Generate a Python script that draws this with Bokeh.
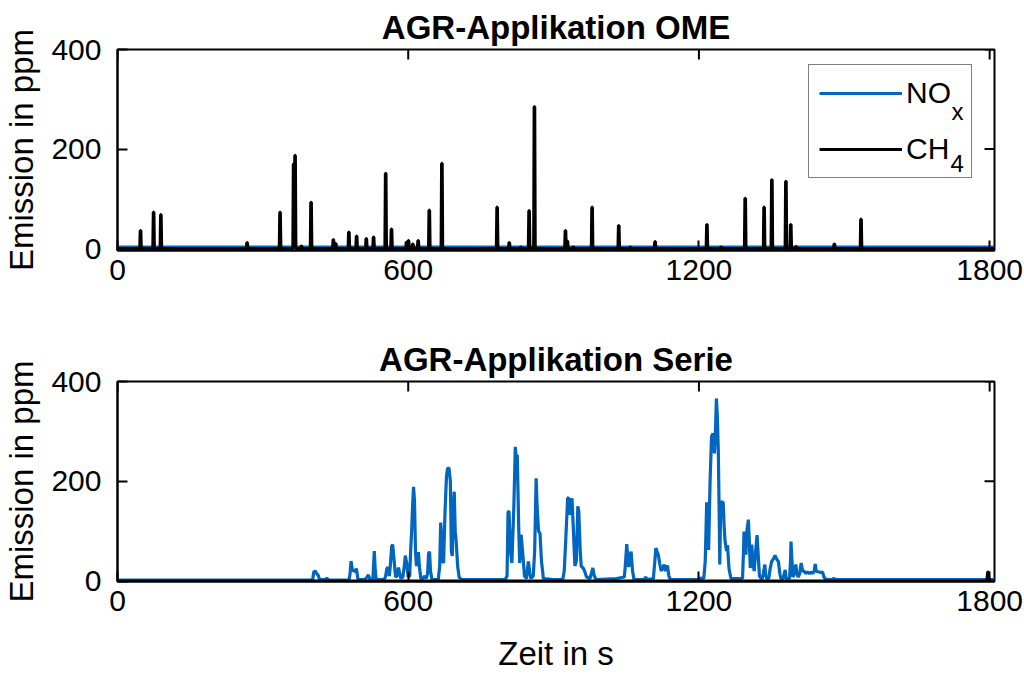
import numpy as np
from bokeh.plotting import figure
from bokeh.layouts import column
from bokeh.models import Range1d, FixedTicker, Legend, LegendItem, Label
from bokeh.embed import file_html
from bokeh.resources import INLINE

FONT = "Liberation Sans"
BLUE = "#0066BF"
BLACK = "#000000"

x_ticks = [0, 600, 1200, 1800]
y_ticks = [0, 200, 400]
t_end = 1810

# --- AGR-Applikation OME -------------------------------------------------
# CH4 peaks: time in s, peak value in ppm
ome_ch4_t = [47, 74, 89, 267, 335, 363, 366, 379, 399, 445, 450, 477, 493, 513,
             528, 553, 565, 596, 600, 609, 620, 643, 669, 783, 808, 832, 849, 860,
             924, 928, 940, 979, 1034, 1058, 1109, 1216, 1245, 1295, 1334, 1350,
             1379, 1389, 1400, 1479, 1534]
ome_ch4_h = [36, 73, 68, 12, 73, 170, 187, 5, 93, 18, 10, 33, 25, 20,
             23, 151, 39, 13, 16, 9, 16, 77, 171, 83, 12, 3, 76, 285,
             36, 15, 3, 83, 46, 3, 14, 48, 3, 101, 83, 138,
             135, 48, 4, 9, 59]
ome_ch4_base = 0.0
ome_nox_t = [0, 1810]
ome_nox_v = [3, 3]

# --- AGR-Applikation Serie -----------------------------------------------
serie_nox_t = [0, 398, 403, 405, 408, 411, 414, 417, 429, 432, 435, 478, 480, 482,
               485, 488, 490, 493, 496, 499, 510, 515, 518, 521, 527, 529, 530, 532,
               534, 550, 553, 556, 558, 561, 563, 566, 568, 571, 574, 577, 580, 583,
               585, 589, 592, 594, 597, 600, 603, 605, 607, 609, 611, 613, 615, 617,
               619, 621, 623, 626, 630, 634, 637, 640, 642, 644, 646, 649, 662, 665,
               667, 669, 671, 673, 676, 679, 681, 684, 687, 689, 691, 693, 695, 697,
               699, 702, 705, 710,
               800, 804, 806, 808, 811, 814, 818, 821, 823, 825, 828, 830, 833, 836,
               840, 844, 848, 851, 853, 858, 861, 864, 866, 869, 872, 875, 879, 900,
               919, 922, 925, 929, 931, 933, 936, 938, 941, 944, 947, 950, 952, 955,
               957, 961, 964, 968, 975, 978, 981, 984, 988, 1030, 1046, 1048, 1051,
               1053, 1055, 1058, 1060, 1063, 1066, 1087, 1090, 1093, 1106, 1109, 1111,
               1114, 1116, 1119, 1122, 1125, 1128, 1131, 1133, 1135, 1138, 1141,
               1200, 1204, 1210, 1213, 1216, 1219, 1220, 1223, 1226, 1229, 1232, 1234,
               1236, 1238, 1240, 1242, 1243, 1245, 1250, 1252, 1254, 1257, 1259, 1262,
               1266, 1290, 1292, 1293, 1295, 1297, 1299, 1302, 1304, 1306, 1309, 1311,
               1314, 1317, 1320, 1323, 1325, 1330, 1333, 1336, 1338, 1340, 1344, 1347,
               1350, 1354, 1357, 1360, 1364, 1367, 1369, 1374, 1376, 1378, 1380, 1387,
               1389, 1390, 1392, 1394, 1397, 1400, 1402, 1405, 1408, 1411, 1414, 1417,
               1420, 1424, 1428, 1431, 1435, 1438, 1440, 1442, 1444, 1448, 1452, 1455,
               1458, 1462, 1476, 1478, 1481, 1810]
serie_nox_v = [2, 2, 3, 18, 20, 15, 12, 3, 3, 6, 2, 2, 15, 40,
               20, 22, 18, 25, 5, 3, 3, 8, 12, 3, 3, 40, 60, 20,
               3, 3, 8, 25, 28, 10, 30, 70, 73, 40, 8, 10, 27, 12,
               5, 8, 30, 51, 35, 8, 10, 60, 99, 150, 189, 160, 60, 30,
               40, 58, 30, 5, 5, 10, 5, 15, 55, 59, 20, 3, 3, 30,
               117, 90, 40, 36, 140, 210, 225, 227, 200, 60, 50, 150, 179, 100,
               79, 30, 8, 3,
               3, 10, 139, 139, 60, 36, 150, 269, 245, 253, 110, 36, 93, 60,
               10, 5, 39, 15, 5, 10, 60, 206, 150, 100, 95, 40, 5, 3,
               3, 20, 80, 166, 167, 133, 140, 166, 100, 30, 40, 150, 140, 60,
               30, 26, 20, 8, 5, 15, 26, 10, 3, 5, 8, 30, 74,
               50, 28, 50, 59, 20, 3, 3, 8, 3, 5, 40, 66,
               58, 53, 35, 20, 25, 33, 20, 25, 31, 10, 3,
               3, 6, 5, 40, 158, 100, 62, 200, 290, 296, 256, 300,
               366, 330, 259, 120, 33, 158, 158, 110, 79, 60, 72, 25,
               5, 5, 60, 99, 80, 53, 100, 123, 80, 26, 73, 40,
               20, 60, 92, 40, 10, 3, 15, 33, 10, 5, 5, 25,
               39, 45, 51, 45, 39, 15, 5, 5, 15, 22, 5, 5,
               40, 79, 40, 8, 15, 33, 15, 8, 15, 36, 20, 20,
               15, 18, 15, 18, 15, 20, 34, 20, 19, 18, 17, 18,
               8, 3, 3, 6, 3, 3]
serie_ch4_t = [0, 1794, 1796, 1797, 1799, 1810]
serie_ch4_v = [0, 0, 18, 18, 0, 0]

FIG_W = 1024
BORDER_L, BORDER_R = 116, 30
TICK_LEN = 10  # px, ticks point into the plot area


def peak_series(times, heights, base, end):
    """Sampled 1 Hz trace: flat base with short two-sample peaks."""
    t = np.arange(0, end + 1)
    v = np.full(t.shape, base, dtype=float)
    for ts, h in zip(times, heights):
        v[ts] = max(v[ts], h)
        v[ts + 1] = max(v[ts + 1], h)
    return t, v


def make_panel(title, height, border_top, border_bottom, y_start, xlabel=None):
    p = figure(width=FIG_W, height=height,
               x_range=Range1d(0, t_end), y_range=Range1d(y_start, 400),
               output_backend="svg", toolbar_location=None,
               min_border_left=BORDER_L, min_border_right=BORDER_R,
               min_border_top=border_top, min_border_bottom=border_bottom,
               title=title)
    p.grid.grid_line_color = None
    p.background_fill_color = "white"
    p.border_fill_color = "white"
    p.outline_line_color = "black"
    p.outline_line_width = 2
    p.outline_line_alpha = 1.0

    p.title.text_font = FONT
    p.title.text_font_size = "33px"
    p.title.text_font_style = "bold"
    p.title.text_color = "black"
    p.title.align = "center"
    p.title.standoff = 8

    for ax in (p.xaxis[0], p.yaxis[0]):
        ax.axis_line_color = "black"
        ax.axis_line_width = 2
        ax.major_tick_in = TICK_LEN
        ax.major_tick_out = 0
        ax.major_tick_line_width = 2
        ax.major_tick_line_color = "black"
        ax.minor_tick_line_color = None
        ax.major_label_text_font = FONT
        ax.major_label_text_font_size = "30px"
        ax.major_label_text_color = "black"
        ax.axis_label_text_font = FONT
        ax.axis_label_text_font_size = "33px"
        ax.axis_label_text_font_style = "normal"
        ax.axis_label_text_color = "black"
    p.xaxis[0].ticker = FixedTicker(ticks=x_ticks)
    p.yaxis[0].ticker = FixedTicker(ticks=y_ticks)
    p.xaxis[0].major_label_standoff = 9
    p.yaxis[0].major_label_standoff = 16
    p.yaxis[0].axis_label = "Emission in ppm"
    p.yaxis[0].axis_label_standoff = 8
    if xlabel:
        p.xaxis[0].axis_label = xlabel
        p.xaxis[0].axis_label_standoff = 21

    # mirrored tick marks along the top and right edges of the box
    frame_w = FIG_W - BORDER_L - BORDER_R
    frame_h = height - border_top - border_bottom
    dy = TICK_LEN * (400 - y_start) / frame_h
    dx = TICK_LEN * t_end / frame_w
    p.segment(x0=x_ticks, x1=x_ticks, y0=[400] * len(x_ticks),
              y1=[400 - dy] * len(x_ticks), line_color="black", line_width=2)
    p.segment(x0=[t_end] * len(y_ticks), x1=[t_end - dx] * len(y_ticks),
              y0=y_ticks, y1=y_ticks, line_color="black", line_width=2)
    return p


# --- upper panel --------------------------------------------------------
p1 = make_panel("AGR-Applikation OME", 330, 49, 80, -4)
t_ch4, v_ch4 = peak_series(ome_ch4_t, ome_ch4_h, ome_ch4_base, t_end)
r_nox = p1.line(ome_nox_t, ome_nox_v, line_color=BLUE, line_width=3)
r_ch4 = p1.line(t_ch4, v_ch4, line_color=BLACK, line_width=3.2)

legend = Legend(items=[LegendItem(label="NO", renderers=[r_nox]),
                       LegendItem(label="CH", renderers=[r_ch4])],
                location=(691, 72))
legend.label_text_font = FONT
legend.label_text_font_size = "30px"
legend.label_text_color = "black"
legend.glyph_width = 83
legend.glyph_height = 36
legend.label_height = 36
legend.label_width = 55
legend.label_standoff = 4
legend.padding = 10
legend.spacing = 20
legend.margin = 0
legend.border_line_color = "black"
legend.border_line_width = 1
legend.background_fill_alpha = 0.0
p1.add_layout(legend, "center")

# subscripts of the legend entries (NO_x, CH_4)
for txt, xs, ys in (("x", 1721, 276), ("4", 1719, 170)):
    p1.add_layout(Label(x=xs, y=ys, text=txt, text_font=FONT, text_font_size="24px",
                        text_color="black", text_baseline="middle"))

# --- lower panel --------------------------------------------------------
p2 = make_panel("AGR-Applikation Serie", 344, 51, 92, -1, xlabel="Zeit in s")
p2.line(serie_nox_t, serie_nox_v, line_color=BLUE, line_width=3.2)
p2.line(serie_ch4_t, serie_ch4_v, line_color=BLACK, line_width=3)

layout = column(p1, p2, spacing=0)
open("out.html", "w").write(file_html(layout, INLINE))
